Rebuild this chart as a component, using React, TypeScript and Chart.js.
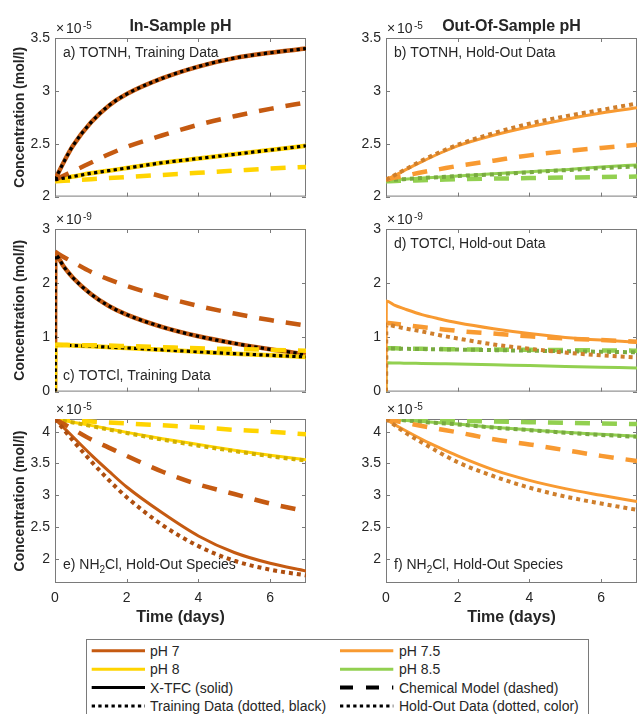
import React, { useEffect, useRef } from 'react';
import { Chart, registerables } from 'chart.js';

Chart.register(...registerables);

const FONT = '"Liberation Sans", Arial, Helvetica, sans-serif';
const TXT = '#262626';
const AXIS = '#7a7a7a';

// ---- time grids (days) ----
const T = [0, 0.25, 0.5, 1, 1.5, 2, 3, 4, 5, 6, 7];
const TJ = [0, 0.01, 0.25, 0.5, 1, 1.5, 2, 3, 4, 5, 6, 7];

// ---- tick labels ----
const X_TICKS = [0, 2, 4, 6];
const Y_TICKS_TOTNH = [2, 2.5, 3, 3.5];
const Y_TICKS_TOTCL = [0, 1, 2, 3];
const Y_TICKS_NH2CL = [2, 2.5, 3, 3.5, 4];

// ---- colours ----
const C7 = '#C55A11';
const C75 = '#F89A31';
const C8 = '#FFD400';
const C85 = '#92D050';
const H7 = '#AE4E0F';
const H75 = '#CF7F2C';
const H8 = '#D2B000';
const H85 = '#78AA40';
const BLACK = '#000000';

// ---- a) TOTNH, training (x1e-5) ----
const A_XTFC_PH7 = [2.16, 2.33, 2.48, 2.70, 2.86, 2.97, 3.12, 3.23, 3.31, 3.36, 3.40];
const A_CHEM_PH7 = [2.16, 2.20, 2.24, 2.32, 2.40, 2.47, 2.58, 2.68, 2.76, 2.83, 2.89];
const A_XTFC_PH8 = [2.16, 2.175, 2.19, 2.22, 2.245, 2.27, 2.32, 2.36, 2.40, 2.44, 2.48];
const A_CHEM_PH8 = [2.145, 2.15, 2.155, 2.165, 2.175, 2.185, 2.205, 2.225, 2.245, 2.265, 2.28];
const A_TRAIN_PH7 = [2.16, 2.33, 2.48, 2.70, 2.86, 2.97, 3.12, 3.23, 3.31, 3.36, 3.40];
const A_TRAIN_PH8 = [2.16, 2.175, 2.19, 2.22, 2.245, 2.27, 2.32, 2.36, 2.40, 2.44, 2.48];

// ---- b) TOTNH, hold-out (x1e-5) ----
const B_XTFC_PH75 = [2.16, 2.20, 2.245, 2.33, 2.41, 2.48, 2.58, 2.66, 2.73, 2.79, 2.84];
const B_HOLD_PH75 = [2.16, 2.205, 2.25, 2.34, 2.42, 2.49, 2.60, 2.69, 2.76, 2.82, 2.88];
const B_CHEM_PH75 = [2.16, 2.18, 2.195, 2.23, 2.26, 2.29, 2.34, 2.39, 2.43, 2.46, 2.49];
const B_XTFC_PH85 = [2.155, 2.16, 2.165, 2.175, 2.185, 2.195, 2.215, 2.235, 2.255, 2.28, 2.30];
const B_HOLD_PH85 = [2.155, 2.16, 2.165, 2.175, 2.185, 2.195, 2.21, 2.23, 2.25, 2.27, 2.285];
const B_CHEM_PH85 = [2.145, 2.148, 2.15, 2.155, 2.16, 2.165, 2.17, 2.175, 2.18, 2.185, 2.19];

// ---- c) TOTCl, training (x1e-9) ----
const C_XTFC_PH7 = [0, 2.52, 2.30, 2.10, 1.80, 1.58, 1.42, 1.19, 1.02, 0.89, 0.78, 0.69];
const C_XTFC_PH8 = [0, 0.86, 0.855, 0.85, 0.835, 0.82, 0.805, 0.77, 0.735, 0.70, 0.67, 0.64];
const C_CHEM_PH7 = [2.58, 2.48, 2.39, 2.21, 2.07, 1.95, 1.75, 1.58, 1.44, 1.32, 1.22];
const C_CHEM_PH8 = [0.87, 0.865, 0.86, 0.855, 0.85, 0.84, 0.82, 0.80, 0.785, 0.77, 0.755];
const C_TRAIN_PH7 = [0, 2.52, 2.30, 2.10, 1.80, 1.58, 1.42, 1.19, 1.02, 0.89, 0.78, 0.69];
const C_TRAIN_PH8 = [0, 0.86, 0.855, 0.85, 0.835, 0.82, 0.805, 0.77, 0.735, 0.70, 0.67, 0.64];

// ---- d) TOTCl, hold-out (x1e-9) ----
const D_XTFC_PH75 = [0, 1.67, 1.59, 1.53, 1.42, 1.34, 1.27, 1.16, 1.07, 1.00, 0.95, 0.91];
const D_HOLD_PH75 = [0, 1.24, 1.205, 1.17, 1.11, 1.04, 0.98, 0.87, 0.79, 0.72, 0.67, 0.63];
const D_CHEM_PH75 = [1.27, 1.25, 1.23, 1.19, 1.155, 1.12, 1.07, 1.02, 0.98, 0.95, 0.92];
const D_XTFC_PH85 = [0, 0.53, 0.528, 0.525, 0.52, 0.515, 0.51, 0.495, 0.48, 0.465, 0.45, 0.435];
const D_HOLD_PH85 = [0, 0.80, 0.795, 0.79, 0.785, 0.78, 0.775, 0.765, 0.755, 0.745, 0.735, 0.725];
const D_CHEM_PH85 = [0.80, 0.80, 0.795, 0.79, 0.785, 0.78, 0.775, 0.77, 0.765, 0.76, 0.755];

// ---- e) NH2Cl, pH 7 / 8 (x1e-5) ----
const E_XTFC_PH7 = [4.2, 4.06, 3.92, 3.64, 3.38, 3.13, 2.72, 2.36, 2.10, 1.93, 1.81];
const E_HOLD_PH7 = [4.2, 4.03, 3.86, 3.54, 3.24, 2.97, 2.53, 2.20, 1.97, 1.83, 1.74];
const E_CHEM_PH7 = [4.2, 4.12, 4.04, 3.88, 3.75, 3.62, 3.37, 3.17, 3.02, 2.87, 2.75];
const E_XTFC_PH8 = [4.2, 4.175, 4.15, 4.10, 4.045, 3.99, 3.89, 3.80, 3.71, 3.63, 3.56];
const E_HOLD_PH8 = [4.2, 4.17, 4.145, 4.09, 4.035, 3.98, 3.875, 3.78, 3.695, 3.615, 3.545];
const E_CHEM_PH8 = [4.2, 4.19, 4.18, 4.16, 4.145, 4.13, 4.10, 4.07, 4.03, 4.0, 3.96];

// ---- f) NH2Cl, pH 7.5 / 8.5 (x1e-5) ----
const F_XTFC_PH75 = [4.2, 4.11, 4.03, 3.88, 3.745, 3.62, 3.40, 3.235, 3.105, 3.0, 2.90];
const F_HOLD_PH75 = [4.2, 4.10, 4.00, 3.83, 3.67, 3.52, 3.30, 3.12, 2.98, 2.87, 2.77];
const F_CHEM_PH75 = [4.2, 4.17, 4.145, 4.09, 4.04, 3.99, 3.88, 3.80, 3.71, 3.62, 3.54];
const F_XTFC_PH85 = [4.2, 4.19, 4.18, 4.16, 4.14, 4.12, 4.07, 4.03, 3.99, 3.96, 3.93];
const F_HOLD_PH85 = [4.2, 4.19, 4.18, 4.155, 4.135, 4.115, 4.065, 4.025, 3.985, 3.95, 3.92];
const F_CHEM_PH85 = [4.2, 4.197, 4.194, 4.19, 4.18, 4.17, 4.16, 4.15, 4.14, 4.13, 4.12];

type Kind = 'xtfc' | 'xtfcTrain' | 'chem' | 'hold' | 'train';
const STYLE: Record<Kind, { width: number; dash: number[] }> = {
  xtfc: { width: 3, dash: [] },
  xtfcTrain: { width: 4.5, dash: [] },
  chem: { width: 4.5, dash: [15, 12] },
  hold: { width: 4, dash: [4, 4] },
  train: { width: 3.2, dash: [3.3, 3.3] },
};

interface Series { t: number[]; v: number[]; color: string; kind: Kind }
interface LabelPart { text: string; sub?: boolean }
interface PanelDef {
  left: number; top: number; width: number; height: number;
  padTop: number; padRight: number; yAxisW: number; xAxisH: number;
  yMin: number; yMax: number; yTicks: number[];
  showXLabels: boolean; exp: string;
  label: LabelPart[]; labelAtTop: boolean; labelDy: number;
  title?: string; yTitle?: boolean; xTitle?: boolean;
  series: Series[];
}

const s = (t: number[], v: number[], color: string, kind: Kind): Series => ({ t, v, color, kind });

const ROW1 = { top: 0, height: 210, padTop: 38, xAxisH: 9 };
const ROW2 = { top: 200, height: 205, padTop: 29, xAxisH: 13 };
const ROW3 = { top: 395, height: 245, padTop: 24, xAxisH: 57 };
const COLL = { left: 0, width: 316, yAxisW: 55, padRight: 10 };
const COLR = { left: 320, width: 321, yAxisW: 66, padRight: 4 };

const PANELS: PanelDef[] = [
  {
    ...ROW1, ...COLL, yMin: 2, yMax: 3.5, yTicks: Y_TICKS_TOTNH, showXLabels: false, exp: '-5',
    label: [{ text: 'a) TOTNH, Training Data' }], labelAtTop: true, labelDy: 15,
    title: 'In-Sample pH', yTitle: true,
    series: [
      s(T, A_CHEM_PH8, C8, 'chem'), s(T, A_XTFC_PH8, C8, 'xtfcTrain'),
      s(T, A_CHEM_PH7, C7, 'chem'), s(T, A_XTFC_PH7, C7, 'xtfcTrain'),
      s(T, A_TRAIN_PH7, BLACK, 'train'), s(T, A_TRAIN_PH8, BLACK, 'train'),
    ],
  },
  {
    ...ROW1, ...COLR, yMin: 2, yMax: 3.5, yTicks: Y_TICKS_TOTNH, showXLabels: false, exp: '-5',
    label: [{ text: 'b) TOTNH, Hold-Out Data' }], labelAtTop: true, labelDy: 15,
    title: 'Out-Of-Sample pH',
    series: [
      s(T, B_CHEM_PH85, C85, 'chem'), s(T, B_XTFC_PH85, C85, 'xtfc'), s(T, B_HOLD_PH85, H85, 'hold'),
      s(T, B_CHEM_PH75, C75, 'chem'), s(T, B_XTFC_PH75, C75, 'xtfc'), s(T, B_HOLD_PH75, H75, 'hold'),
    ],
  },
  {
    ...ROW2, ...COLL, yMin: 0, yMax: 3, yTicks: Y_TICKS_TOTCL, showXLabels: false, exp: '-9',
    label: [{ text: 'c) TOTCl, Training Data' }], labelAtTop: false, labelDy: 15.5,
    yTitle: true,
    series: [
      s(T, C_CHEM_PH7, C7, 'chem'), s(TJ, C_XTFC_PH7, C7, 'xtfcTrain'),
      s(TJ, C_XTFC_PH8, C8, 'xtfcTrain'), s(TJ, C_TRAIN_PH7, BLACK, 'train'),
      s(TJ, C_TRAIN_PH8, BLACK, 'train'), s(T, C_CHEM_PH8, C8, 'chem'),
    ],
  },
  {
    ...ROW2, ...COLR, yMin: 0, yMax: 3, yTicks: Y_TICKS_TOTCL, showXLabels: false, exp: '-9',
    label: [{ text: 'd) TOTCl, Hold-out Data' }], labelAtTop: true, labelDy: 15.5,
    series: [
      s(TJ, D_XTFC_PH85, C85, 'xtfc'), s(T, D_CHEM_PH85, C85, 'chem'), s(TJ, D_HOLD_PH85, H85, 'hold'),
      s(TJ, D_XTFC_PH75, C75, 'xtfc'), s(T, D_CHEM_PH75, C75, 'chem'), s(TJ, D_HOLD_PH75, H75, 'hold'),
    ],
  },
  {
    ...ROW3, ...COLL, yMin: 1.62, yMax: 4.2, yTicks: Y_TICKS_NH2CL, showXLabels: true, exp: '-5',
    label: [{ text: 'e) NH' }, { text: '2', sub: true }, { text: 'Cl, Hold-Out Species' }],
    labelAtTop: false, labelDy: 18, yTitle: true, xTitle: true,
    series: [
      s(T, E_CHEM_PH8, C8, 'chem'), s(T, E_XTFC_PH8, C8, 'xtfc'), s(T, E_HOLD_PH8, H8, 'hold'),
      s(T, E_CHEM_PH7, C7, 'chem'), s(T, E_XTFC_PH7, C7, 'xtfc'), s(T, E_HOLD_PH7, H7, 'hold'),
    ],
  },
  {
    ...ROW3, ...COLR, yMin: 1.62, yMax: 4.2, yTicks: Y_TICKS_NH2CL, showXLabels: true, exp: '-5',
    label: [{ text: 'f) NH' }, { text: '2', sub: true }, { text: 'Cl, Hold-Out Species' }],
    labelAtTop: false, labelDy: 18, xTitle: true,
    series: [
      s(T, F_CHEM_PH85, C85, 'chem'), s(T, F_XTFC_PH85, C85, 'xtfc'), s(T, F_HOLD_PH85, H85, 'hold'),
      s(T, F_CHEM_PH75, C75, 'chem'), s(T, F_XTFC_PH75, C75, 'xtfc'), s(T, F_HOLD_PH75, H75, 'hold'),
    ],
  },
];

function fmt(v: number) {
  return String(Math.round(v * 100) / 100);
}

function Panel({ def }: { def: PanelDef }) {
  const ref = useRef<HTMLCanvasElement>(null);
  useEffect(() => {
    const deco = {
      id: 'deco',
      beforeDatasetsDraw(chart: any) {
        const { ctx, chartArea: a, scales } = chart;
        ctx.save();
        ctx.strokeStyle = AXIS;
        ctx.lineWidth = 1;
        ctx.strokeRect(a.left + 0.5, a.top + 0.5, a.right - a.left - 1, a.bottom - a.top - 1);
        ctx.beginPath();
        for (const v of def.yTicks) {
          const y = Math.round(scales.y.getPixelForValue(v)) + 0.5;
          ctx.moveTo(a.left, y); ctx.lineTo(a.left + 4, y);
          ctx.moveTo(a.right, y); ctx.lineTo(a.right - 4, y);
        }
        for (const v of X_TICKS) {
          const x = Math.round(scales.x.getPixelForValue(v)) + 0.5;
          ctx.moveTo(x, a.bottom); ctx.lineTo(x, a.bottom - 4);
          ctx.moveTo(x, a.top); ctx.lineTo(x, a.top + 4);
        }
        ctx.stroke();
        ctx.restore();
      },
      afterDatasetsDraw(chart: any) {
        const { ctx, chartArea: a } = chart;
        ctx.save();
        ctx.fillStyle = TXT;
        // exponent
        ctx.textBaseline = 'alphabetic';
        ctx.textAlign = 'left';
        ctx.font = `14px ${FONT}`;
        ctx.fillText('\u00d7', a.left + 1, a.top - 5);
        ctx.fillText('10', a.left + 11, a.top - 5);
        ctx.font = `10px ${FONT}`;
        ctx.fillText(def.exp, a.left + 28, a.top - 9);
        // panel label
        const ly = def.labelAtTop ? a.top + def.labelDy : a.bottom - def.labelDy;
        let lx = a.left + 8;
        ctx.textBaseline = 'middle';
        for (const p of def.label) {
          if (p.sub) {
            ctx.font = `10px ${FONT}`;
            ctx.fillText(p.text, lx, ly + 5);
          } else {
            ctx.font = `14px ${FONT}`;
            ctx.fillText(p.text, lx, ly);
          }
          lx += ctx.measureText(p.text).width;
        }
        const cx = (a.left + a.right) / 2;
        if (def.title) {
          ctx.font = `bold 16px ${FONT}`;
          ctx.textAlign = 'center';
          ctx.fillText(def.title, cx, 27);
        }
        if (def.xTitle) {
          ctx.font = `bold 16px ${FONT}`;
          ctx.textAlign = 'center';
          ctx.fillText('Time (days)', cx, 618 - def.top);
        }
        if (def.yTitle) {
          ctx.font = `bold 14px ${FONT}`;
          ctx.textAlign = 'center';
          ctx.translate(20, (a.top + a.bottom) / 2);
          ctx.rotate(-Math.PI / 2);
          ctx.fillText('Concentration (mol/l)', 0, 0);
        }
        ctx.restore();
      },
    };

    const datasets = def.series.map((sr) => ({
      data: sr.t.map((t, i) => ({ x: t, y: sr.v[i] })),
      borderColor: sr.color,
      backgroundColor: sr.color,
      borderWidth: STYLE[sr.kind].width,
      borderDash: STYLE[sr.kind].dash,
      borderCapStyle: 'butt',
      borderJoinStyle: 'round',
      pointRadius: 0,
      fill: false,
      cubicInterpolationMode: 'monotone',
    })).reverse();

    const chart = new Chart(ref.current as HTMLCanvasElement, {
      type: 'line',
      data: { datasets } as any,
      options: {
        responsive: false,
        animation: false,
        events: [],
        layout: { padding: { top: def.padTop, right: def.padRight, left: 0, bottom: 0 }, autoPadding: false } as any,
        plugins: { legend: { display: false }, tooltip: { enabled: false }, title: { display: false } },
        scales: {
          x: {
            type: 'linear', min: 0, max: 7,
            afterBuildTicks: (sc: any) => { sc.ticks = X_TICKS.map((v) => ({ value: v })); },
            afterFit: (sc: any) => { sc.height = def.xAxisH; },
            grid: { display: false, drawTicks: false },
            border: { display: false },
            ticks: {
              display: def.showXLabels, padding: 7, maxRotation: 0, autoSkip: false,
              color: TXT, font: { family: FONT, size: 14 },
              callback: (v: any) => fmt(Number(v)),
            },
          },
          y: {
            type: 'linear', min: def.yMin, max: def.yMax,
            afterBuildTicks: (sc: any) => { sc.ticks = def.yTicks.map((v) => ({ value: v })); },
            afterFit: (sc: any) => { sc.width = def.yAxisW; },
            grid: { display: false, drawTicks: false },
            border: { display: false },
            ticks: {
              padding: 5, autoSkip: false, color: TXT, font: { family: FONT, size: 14 },
              callback: (v: any) => fmt(Number(v)),
            },
          },
        },
      } as any,
      plugins: [deco as any],
    });
    return () => chart.destroy();
  }, [def]);
  return (
    <canvas
      ref={ref}
      width={def.width}
      height={def.height}
      style={{ position: 'absolute', left: def.left, top: def.top, width: def.width, height: def.height }}
    />
  );
}

const LEGEND_ROWS = [
  [{ label: 'pH 7', color: C7, dash: '', w: 3 }, { label: 'pH 7.5', color: C75, dash: '', w: 3 }],
  [{ label: 'pH 8', color: C8, dash: '', w: 3 }, { label: 'pH 8.5', color: C85, dash: '', w: 3 }],
  [{ label: 'X-TFC (solid)', color: BLACK, dash: '', w: 3 }, { label: 'Chemical Model (dashed)', color: BLACK, dash: '13 13', w: 4 }],
  [{ label: 'Training Data (dotted, black)', color: BLACK, dash: '3.3 3.3', w: 3 }, { label: 'Hold-Out Data (dotted, color)', color: BLACK, dash: '3.3 3.3', w: 3 }],
];
const LEGEND_ROW_Y = [11.7, 30.3, 48.5, 67];
const LEGEND_COL = [{ x1: 5.7, x2: 59, tx: 64 }, { x1: 254, x2: 307.3, tx: 313 }];

function Legend() {
  return (
    <svg style={{ position: 'absolute', left: 86, top: 639 }} width={503} height={80}>
      <rect x={0.5} y={0.5} width={502} height={90} fill="#ffffff" stroke={AXIS} strokeWidth={1} />
      {LEGEND_ROWS.map((row, ri) =>
        row.map((it, ci) => {
          const c = LEGEND_COL[ci];
          const y = LEGEND_ROW_Y[ri];
          return (
            <g key={`${ri}-${ci}`}>
              <line x1={c.x1} x2={c.x2} y1={y} y2={y} stroke={it.color} strokeWidth={it.w}
                strokeDasharray={it.dash || undefined} />
              <text x={c.tx} y={y} dominantBaseline="central" fontFamily={FONT} fontSize={14} fill={TXT}>
                {it.label}
              </text>
            </g>
          );
        })
      )}
    </svg>
  );
}

export default function App() {
  return (
    <div style={{ position: 'absolute', left: 0, top: 0, width: 641, height: 714, overflow: 'hidden', background: '#ffffff' }}>
      {PANELS.map((p, i) => <Panel key={i} def={p} />)}
      <Legend />
    </div>
  );
}
